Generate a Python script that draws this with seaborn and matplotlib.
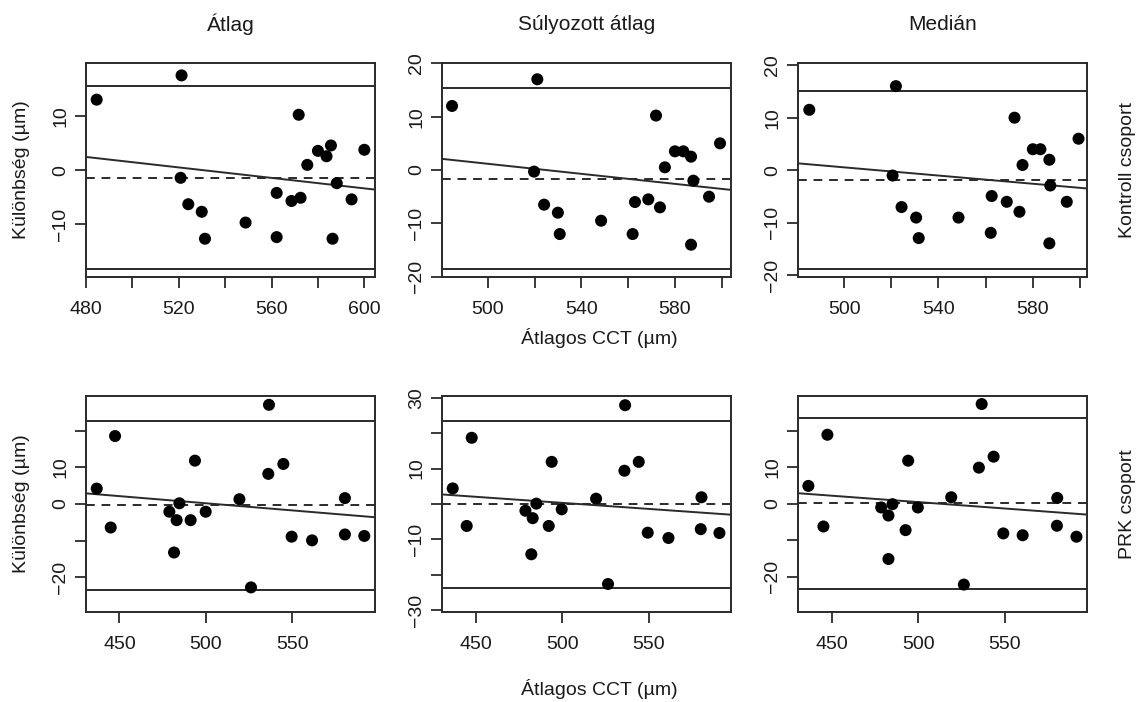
import numpy as np
import pandas as pd
import matplotlib
matplotlib.use("Agg")
import matplotlib.pyplot as plt
import seaborn as sns

# ---------------- data ----------------
columns = ["Átlag", "Súlyozott átlag", "Medián"]
rows = ["Kontroll csoport", "PRK csoport"]
xlabel = "Átlagos CCT (µm)"
ylabel = "Különbség (µm)"

# Kontroll csoport
k_atlag_x = [484.6, 521.2, 520.8, 524.1, 529.9, 531.3, 548.8, 562.2, 562.2, 568.6,
             572.5, 571.7, 575.4, 580.0, 583.7, 585.6, 588.1, 586.3, 594.5, 600.0]
k_atlag_d = [13.1, 17.6, -1.4, -6.3, -7.7, -12.7, -9.7, -4.2, -12.4, -5.7,
             -5.1, 10.3, 1.0, 3.6, 2.6, 4.6, -2.4, -12.7, -5.4, 3.8]
k_suly_x = [484.6, 521.1, 519.7, 524.0, 529.9, 530.7, 548.4, 561.9, 562.9, 568.6,
            573.6, 571.9, 575.7, 580.0, 583.6, 586.9, 587.9, 586.9, 594.6, 599.3]
k_suly_d = [12.0, 17.0, -0.3, -6.5, -8.0, -12.0, -9.5, -12.0, -6.0, -5.5,
            -7.0, 10.2, 0.5, 3.5, 3.5, 2.5, -2.0, -14.0, -5.0, 5.0]
k_med_x = [485.1, 521.9, 520.5, 524.3, 530.5, 531.6, 548.5, 562.2, 562.6, 569.0,
           574.4, 572.3, 575.7, 580.1, 583.3, 587.1, 587.5, 587.1, 594.5, 599.5]
k_med_d = [11.5, 16.0, -1.0, -7.0, -9.0, -12.9, -9.0, -11.9, -4.9, -6.0,
           -7.9, 10.0, 1.0, 4.0, 4.0, 2.0, -2.9, -13.9, -6.0, 6.0]

# PRK csoport
p_atlag_x = [436.9, 445.0, 447.5, 478.9, 483.1, 484.7, 481.6, 491.2, 493.7, 499.9,
             519.4, 526.1, 536.1, 536.5, 544.8, 549.6, 561.4, 580.4, 580.4, 591.6]
p_atlag_d = [4.2, -6.4, 18.5, -2.1, -4.4, 0.2, -13.2, -4.4, 11.8, -2.1,
             1.3, -22.7, 8.2, 27.0, 10.9, -8.9, -9.9, 1.6, -8.3, -8.7]
p_suly_x = [436.5, 444.6, 447.5, 478.6, 482.8, 484.9, 482.0, 492.1, 493.8, 499.6,
            519.5, 526.4, 535.9, 536.3, 544.2, 549.4, 561.4, 580.5, 580.1, 590.9]
p_suly_d = [4.4, -6.2, 18.7, -1.9, -4.0, 0.1, -14.2, -6.2, 11.9, -1.5,
            1.5, -22.6, 9.4, 27.9, 11.9, -8.1, -9.6, 1.9, -7.1, -8.2]
p_med_x = [436.5, 445.2, 447.5, 478.6, 482.8, 485.1, 482.8, 492.7, 494.2, 499.8,
           519.1, 526.4, 535.1, 536.7, 543.6, 549.2, 560.4, 580.4, 580.2, 591.5]
p_med_d = [4.9, -6.2, 18.9, -1.0, -3.2, -0.1, -15.1, -7.2, 11.8, -1.0,
           1.8, -22.1, 9.9, 27.3, 12.9, -8.1, -8.6, 1.6, -6.0, -9.0]

# mean difference, limits of agreement, regression (intercept, slope)
mean_diff = [-1.45, -1.7, -1.85, -0.35, 0.0, 0.1]
loa_upper = [15.7, 15.3, 15.1, 22.7, 23.5, 23.6]
loa_lower = [-18.4, -18.5, -18.8, -23.4, -23.6, -23.4]
reg_intercept = [25.8, 24.66, 20.0, 19.65, 17.42, 17.97]
reg_slope = [-0.0486, -0.047, -0.0389, -0.0389, -0.0342, -0.035]

xs = [k_atlag_x, k_suly_x, k_med_x, p_atlag_x, p_suly_x, p_med_x]
ds = [k_atlag_d, k_suly_d, k_med_d, p_atlag_d, p_suly_d, p_med_d]

# ---------------- layout ----------------
sns.set_theme(style="ticks")
plt.rcParams["font.family"] = ["Liberation Sans", "DejaVu Sans"]
plt.rcParams["axes.unicode_minus"] = True

W, H = 1138, 702
fig = plt.figure(figsize=(W / 100, H / 100), dpi=100)
fig.patch.set_facecolor("white")

col_lr = [(86, 375), (442, 731), (798, 1087)]
row_tb = [(63, 277), (396, 612)]

xlims = [(480.0, 604.6), (480.3, 604.0), (480.3, 603.1),
         (430.7, 597.8), (430.3, 597.6), (430.5, 597.6)]
ylims = [(-19.8, 19.9), (-20.05, 20.05), (-20.3, 20.4),
         (-29.4, 29.4), (-30.5, 30.5), (-29.6, 29.5)]
xticks_top1 = np.arange(480, 601, 20)
xticks_top = np.arange(500, 601, 20)
xticks_bot = [450, 500, 550]

LC = "#2a2a2a"
FS = 14

for i in range(6):
    r, c = divmod(i, 3)
    l, rr = col_lr[c]
    t, b = row_tb[r]
    ax = fig.add_axes([l / W, 1 - b / H, (rr - l) / W, (b - t) / H])
    df = pd.DataFrame({"x": xs[i], "d": ds[i]})
    sns.scatterplot(data=df, x="x", y="d", ax=ax, color="black", s=75,
                    edgecolor="none", linewidth=0, zorder=3)
    ax.axhline(loa_upper[i], color=LC, lw=1.4)
    ax.axhline(loa_lower[i], color=LC, lw=1.4)
    ax.axhline(mean_diff[i], color=LC, lw=1.4, ls=(0, (4.5, 3.5)))
    ax.axline((0, reg_intercept[i]), slope=reg_slope[i], color=LC, lw=1.4)
    ax.set_xlim(*xlims[i])
    ax.set_ylim(*ylims[i])
    ax.set_xlabel("")
    ax.set_ylabel("")

    # x ticks
    if r == 0:
        if c == 0:
            ticks = xticks_top1
            labs = [str(v) if v in (480, 520, 560, 600) else "" for v in ticks]
        else:
            ticks = xticks_top
            labs = [str(v) if v in (500, 540, 580) else "" for v in ticks]
    else:
        ticks = xticks_bot
        labs = [str(v) for v in ticks]
    ax.set_xticks(ticks)
    ax.set_xticklabels(labs)

    # y ticks
    if r == 0:
        if c == 0:
            yt = [-10, 0, 10]
            yl = ["−10", "0", "10"]
        else:
            yt = [-20, -10, 0, 10, 20]
            yl = ["−20", "−10", "0", "10", "20"]
    else:
        if c == 1:
            yt = [-30, -20, -10, 0, 10, 20, 30]
            yl = ["−30", "", "−10", "", "10", "", "30"]
        else:
            yt = [-20, -10, 0, 10, 20]
            yl = ["−20", "", "0", "10", ""]
    ax.set_yticks(yt)
    ax.set_yticklabels(yl, rotation=90, va="center")

    ax.tick_params(axis="both", direction="out", length=8, width=1.3,
                   color=LC, labelsize=FS, labelcolor="#1a1a1a")
    ax.tick_params(axis="x", pad=9)
    ax.tick_params(axis="y", pad=4)
    for s in ax.spines.values():
        s.set_visible(True)
        s.set_color(LC)
        s.set_linewidth(1.4)

# column titles
for c, name in enumerate(columns):
    l, rr = col_lr[c]
    fig.text((l + rr) / 2 / W, 1 - 24 / H, name, ha="center", va="center",
             fontsize=15, color="#1a1a1a")

# row labels on the right
for r, name in enumerate(rows):
    t, b = row_tb[r]
    fig.text(1127 / W, 1 - (t + b) / 2 / H, name, ha="center", va="center",
             rotation=90, fontsize=FS, color="#1a1a1a")
    fig.text(22 / W, 1 - (t + b) / 2 / H, ylabel, ha="center", va="center",
             rotation=90, fontsize=FS, color="#1a1a1a")

# x axis labels
fig.text(599 / W, 1 - 338 / H, xlabel, ha="center", va="center",
         fontsize=FS, color="#1a1a1a")
fig.text(599 / W, 1 - 689 / H, xlabel, ha="center", va="center",
         fontsize=FS, color="#1a1a1a")

fig.savefig("out.png", dpi=100, facecolor="white")
